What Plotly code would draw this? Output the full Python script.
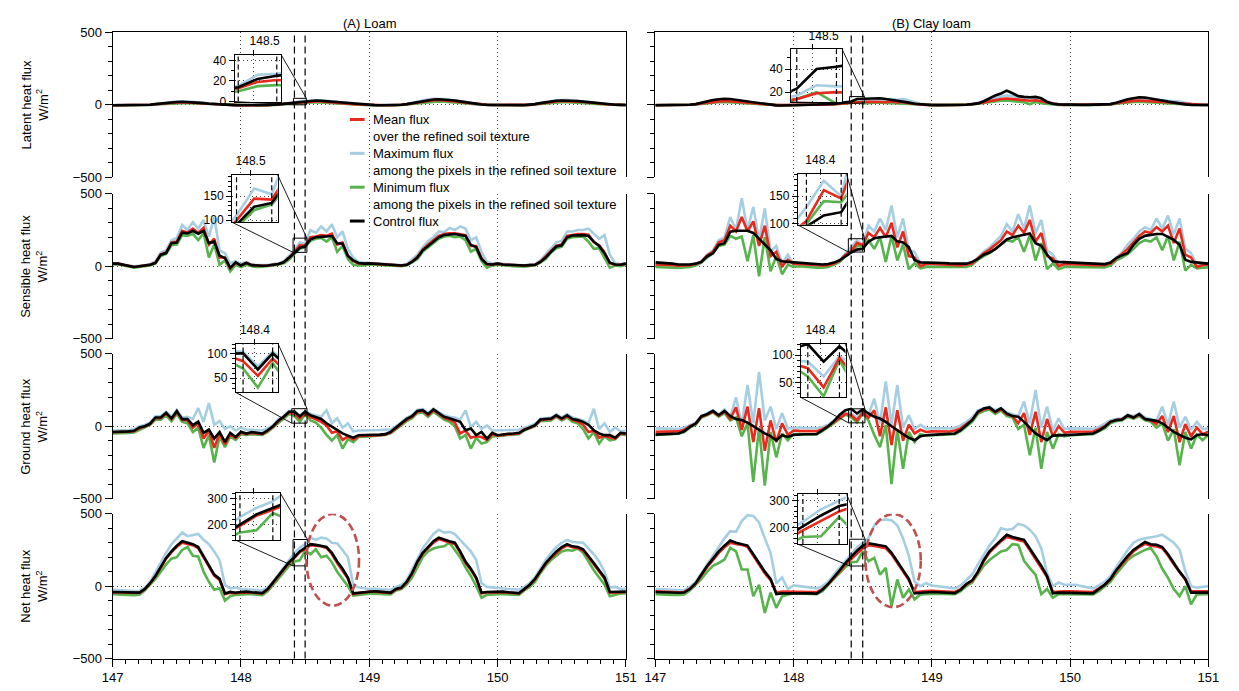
import numpy as np
import plotly.graph_objects as go

W, H = 1239, 691
FONT = "Liberation Sans, Arial, Helvetica, sans-serif"

# Hourly time stamps (day of year 147.0 ... 151.0)
time = 147 + np.arange(97) / 24.0

# ---------------- Latent heat flux (W/m2) ----------------
latent_loam_ctrl = [-3,-3,-4,-4,-4,-3,-2,0,5,10,14,18,20,21,20,18,15,12,8,5,2,0,-1,-2,
                    -3,-3,-3,-3,-3,-3,0,3,7,11,14,22,25,30,30,28,25,22,18,14,10,5,2,0,
                    -2,-2,-3,-3,-3,-3,0,5,12,20,28,34,37,38,36,33,30,24,18,12,6,2,0,-1,
                    -1,-2,-2,-2,-2,-2,0,5,12,18,24,28,30,30,28,26,22,18,14,10,6,3,1,0,
                    -1]
latent_loam_mean = [-3,-3,-4,-4,-4,-3,-2,0,4,8,12,15,17,18,17,15,13,10,7,4,2,0,-1,-2,
                    -3,-3,-3,-3,-3,-3,0,3,6,10,13,19,21,23,24,23,21,18,15,12,8,4,2,0,
                    -2,-2,-3,-3,-3,-3,0,4,10,17,24,29,32,33,31,28,25,20,15,10,5,2,0,-1,
                    -1,-2,-2,-2,-2,-2,0,4,10,15,20,24,26,26,24,22,19,15,12,8,5,2,1,0,
                    -1]
latent_loam_max = [-2,-2,-3,-3,-3,-2,-1,1,6,12,16,20,23,24,23,21,18,14,10,6,3,1,0,-1,
                   -2,-2,-2,-2,-2,-2,1,4,8,12,15,26,27,32,33,31,28,25,21,16,12,6,3,1,
                   -1,-1,-2,-2,-2,-2,1,6,14,23,31,38,41,42,40,37,33,27,20,14,8,3,1,0,
                   0,-1,-1,-1,-1,-1,1,6,14,21,27,31,34,34,32,29,25,21,16,12,7,4,2,1,
                   0]
latent_loam_min = [-4,-4,-5,-5,-5,-4,-3,-1,2,5,7,9,11,12,11,10,8,6,4,2,1,-1,-2,-3,
                   -4,-4,-4,-4,-4,-4,-1,2,5,8,10,15,16,17,18,17,15,13,10,8,5,2,1,-1,
                   -3,-3,-4,-4,-4,-4,-1,3,7,12,17,21,23,24,22,20,18,14,10,7,3,1,-1,-2,
                   -2,-3,-3,-3,-3,-3,-1,3,7,11,14,17,18,18,17,15,13,10,8,5,3,1,0,-1,
                   -2]

latent_clay_ctrl = [-3,-3,-3,-3,-3,-2,0,5,15,25,33,38,42,40,34,28,22,16,10,5,0,-4,-5,-4,
                    -3,-3,-2,-2,-1,0,2,6,12,16,23,40,42,46,48,45,40,35,28,22,15,8,3,0,
                    -2,-2,-2,-2,-2,-2,0,5,10,25,45,64,78,98,80,60,55,52,55,45,20,8,3,1,
                    0,0,0,0,0,0,0,5,15,28,38,45,52,50,45,38,30,22,15,8,3,0,-1,-1,
                    -1]
latent_clay_mean = [-2,-2,-2,-2,-2,-1,1,4,10,16,21,24,26,25,22,18,14,10,6,3,0,-2,-2,-2,
                    -1,-1,-1,-1,-1,0,2,5,9,12,14,19,20,21,22,20,18,24,16,20,12,6,2,0,
                    -1,-1,-1,-1,-1,-1,1,4,9,17,26,34,40,44,40,35,30,28,32,25,15,6,2,0,
                    0,0,0,0,0,0,1,4,11,18,24,27,30,29,26,22,19,16,12,8,4,2,0,0,
                    0]
latent_clay_max = [-1,-1,-1,-1,-1,0,2,5,12,20,26,30,32,31,27,22,18,13,8,4,1,-1,-1,-1,
                   0,0,0,0,0,1,3,6,10,14,17,26,25,28,30,32,34,40,35,42,30,18,8,3,
                   1,1,0,0,0,0,2,6,12,22,35,48,58,65,60,52,48,50,46,40,25,12,6,3,
                   2,2,1,1,1,1,2,6,15,25,32,36,40,39,36,32,30,28,25,22,12,5,2,1,
                   1]
latent_clay_min = [-3,-3,-3,-3,-3,-2,0,3,8,12,16,18,19,18,16,13,10,7,4,2,0,-2,-3,-3,
                   -2,-2,-2,-2,-2,-1,1,3,6,9,14,20,10,14,15,14,12,10,8,6,4,2,0,-1,
                   -2,-2,-2,-2,-2,-2,0,3,7,13,19,24,28,30,27,22,18,5,20,12,6,2,0,-1,
                   -1,-1,-1,-1,-1,-1,0,3,8,13,17,20,22,21,19,16,13,10,7,4,2,0,-1,-1,
                   -1]

# ---------------- Sensible heat flux (W/m2) ----------------
sensible_loam_ctrl = [18,18,10,2,-5,0,3,10,23,80,91,159,164,232,227,245,225,245,160,170,73,57,-11,27,
                      5,23,8,5,3,5,10,15,27,57,91,128,136,186,200,203,206,209,159,155,73,40,23,18,
                      20,18,15,12,10,5,5,10,30,60,110,140,170,200,216,220,223,216,209,148,132,50,15,12,
                      18,12,10,8,6,5,8,10,30,60,100,136,145,200,212,216,215,209,170,140,90,25,12,10,
                      18]
sensible_loam_mean = [18,18,10,2,-5,0,3,10,25,82,95,165,170,245,232,260,230,265,150,190,60,60,-15,25,
                      5,23,8,5,3,5,10,15,28,60,100,145,143,200,205,215,210,225,150,165,70,35,20,16,
                      20,18,15,12,10,5,5,10,32,65,115,150,180,210,222,228,228,222,215,140,140,55,12,12,
                      18,12,10,8,6,5,8,10,32,65,105,142,150,210,218,222,222,218,165,145,95,22,10,10,
                      18]
sensible_loam_max = [20,20,12,5,0,3,6,15,35,95,110,180,195,285,250,305,260,320,205,340,110,90,20,35,
                     15,30,12,8,6,8,15,20,35,70,110,166,154,250,230,275,240,290,200,240,120,60,30,25,
                     22,20,17,14,12,8,8,15,45,80,130,175,200,240,235,265,250,275,260,180,200,100,30,20,
                     22,15,12,10,8,7,10,15,40,80,125,165,175,240,240,250,250,260,225,190,215,80,20,15,
                     20]
sensible_loam_min = [12,12,5,-3,-10,-5,0,5,18,70,85,145,150,215,210,225,180,230,60,150,10,40,-35,10,
                     -5,10,0,-5,-3,0,5,10,20,45,85,121,133,175,190,195,170,200,100,140,50,10,5,5,
                     12,10,8,5,3,0,0,5,25,50,100,130,160,190,205,210,200,205,180,100,120,35,-10,5,
                     10,5,3,0,-2,-3,2,5,25,50,95,125,135,190,200,205,205,170,120,125,60,-10,5,0,
                     10]

sensible_clay_ctrl = [27,25,22,18,12,10,12,18,30,68,90,148,159,239,245,245,245,230,190,150,110,50,34,30,
                      27,25,25,20,15,12,15,25,41,70,95,115,121,170,193,200,205,209,172,165,132,41,27,27,
                      25,25,22,20,18,15,18,30,50,80,95,118,150,185,200,210,216,227,159,141,80,34,30,28,
                      27,25,22,20,18,15,15,25,57,75,91,148,190,210,218,223,223,200,182,148,45,30,27,22,
                      18]
sensible_clay_mean = [12,12,10,7,4,4,8,16,32,75,100,165,180,280,240,340,240,310,140,280,70,100,0,45,
                      15,15,12,8,6,5,8,18,38,80,105,161,146,230,200,265,200,300,130,240,70,60,0,15,
                      15,15,12,10,8,6,10,20,55,90,115,145,180,240,215,280,230,320,170,230,70,55,0,15,
                      15,15,12,10,8,6,8,18,55,85,120,165,210,240,230,270,240,280,160,260,80,60,-5,8,
                      12]
sensible_clay_max = [5,5,3,0,-2,0,5,15,35,80,110,180,200,340,250,470,250,410,180,400,100,140,20,80,
                     10,15,8,5,3,2,5,15,40,90,130,178,150,280,240,330,250,420,200,330,110,100,15,10,
                     8,8,6,5,3,2,5,15,60,100,130,170,210,290,240,360,260,420,230,320,110,80,15,10,
                     10,8,6,5,3,2,3,12,60,95,150,190,240,270,250,330,260,350,220,330,120,90,10,5,
                     8]
sensible_clay_min = [-5,-5,-8,-10,-12,-10,-5,5,25,60,90,140,150,210,190,205,35,215,-70,200,-35,70,-55,10,
                     -5,0,-5,-8,-10,-10,-5,10,30,70,100,141,139,180,120,200,30,210,40,150,-20,20,-15,-5,
                     -5,-5,-8,-10,-10,-10,-5,10,45,70,90,120,150,180,170,200,100,215,40,160,-20,20,-20,-5,
                     -5,-5,-8,-10,-10,-10,-8,5,40,60,85,120,160,180,170,200,110,210,40,170,-30,10,-15,-10,
                     -8]

# ---------------- Ground heat flux (W/m2) ----------------
ground_loam_ctrl = [-40,-40,-38,-36,-32,-9,0,18,60,60,93,53,104,49,50,7,32,-46,-23,-86,-40,-109,-46,-74,
                    -39,-51,-40,-45,-51,-28,0,40,65,100,101,68,101,75,60,50,20,-5,-30,-50,-65,-79,-62,-62,
                    -62,-60,-58,-55,-39,-9,23,50,69,106,111,83,116,88,65,55,45,30,-28,-16,-62,-40,-86,-46,
                    -62,-55,-52,-50,-46,-25,-10,7,46,50,53,76,53,76,50,42,30,10,-28,-50,-62,-62,-79,-46,
                    -51]
ground_loam_mean = [-42,-42,-40,-38,-35,-15,-3,14,55,55,88,48,97,45,40,-10,20,-85,-30,-150,-50,-125,-55,-82,
                    -45,-55,-47,-50,-55,-33,-4,34,62,95,85,55,90,62,48,30,5,-45,-35,-95,-70,-92,-68,-68,
                    -66,-64,-62,-58,-44,-14,18,45,64,100,105,76,110,81,57,45,25,-50,-30,-80,-70,-75,-95,-56,
                    -66,-60,-56,-54,-50,-20,-12,4,42,46,48,71,48,70,42,33,10,-40,-32,-80,-66,-78,-85,-50,
                    -55]
ground_loam_max = [-30,-30,-28,-26,-22,0,8,25,68,70,100,65,112,60,65,50,125,30,160,10,35,-20,0,-30,
                   -10,-25,-25,-28,-30,-15,8,48,72,106,104,74,104,85,75,65,110,20,55,-10,20,-35,-30,-30,
                   -30,-28,-26,-24,-25,0,30,58,76,113,118,92,122,97,75,65,60,45,110,-5,30,-20,5,-30,
                   -30,-28,-26,-25,-25,-10,0,15,52,58,60,82,60,84,60,50,40,20,120,-20,20,-40,-10,-35,
                   -30]
ground_loam_min = [-50,-50,-48,-46,-44,-25,-10,8,45,45,75,35,85,30,20,-40,-10,-150,-60,-250,-70,-145,-70,-95,
                   -55,-60,-55,-55,-60,-40,-10,25,55,85,70,31,81,40,25,-10,-60,-100,-60,-155,-90,-110,-75,-75,
                   -70,-68,-65,-60,-50,-20,10,35,55,90,95,65,100,70,45,30,0,-85,-60,-155,-80,-120,-110,-70,
                   -70,-65,-60,-58,-55,-30,-15,0,35,40,40,65,40,60,30,20,-20,-85,-40,-120,-70,-97,-90,-55,
                   -60]

ground_clay_ctrl = [-58,-55,-53,-52,-50,-35,-5,18,69,83,106,76,106,70,50,42,25,0,-28,-50,-69,-97,-62,-74,
                    -60,-56,-56,-56,-54,-28,0,35,80,111,120,88,116,88,65,53,30,0,-30,-55,-80,-97,-70,-62,
                    -60,-58,-56,-55,-50,-28,7,42,100,123,130,100,123,88,70,65,30,-10,-50,-74,-97,-65,-62,-62,
                    -60,-58,-56,-54,-51,-30,-5,30,42,46,76,60,83,50,45,37,20,-9,-40,-60,-80,-90,-60,-56,
                    -62]
ground_clay_mean = [-38,-37,-36,-36,-36,-25,0,18,65,80,100,72,100,50,130,-25,135,-110,125,-170,40,-110,20,-60,
                    -30,-32,-34,-35,-35,-20,0,30,55,85,76,41,95,60,110,-70,130,-130,110,-100,10,-50,-25,-40,
                    -36,-37,-37,-37,-30,-15,15,45,97,115,125,97,117,82,70,20,90,-60,100,-110,50,-70,0,-45,
                    -38,-37,-37,-37,-37,-20,0,30,43,48,73,60,80,50,40,15,70,-40,70,-110,15,-70,-10,-55,
                    -38]
ground_clay_max = [-15,-15,-17,-18,-20,-10,5,25,70,90,110,80,115,60,200,10,285,20,375,40,135,-20,90,-15,
                   -10,-10,-12,-15,-15,-5,10,40,60,90,88,61,98,80,190,20,310,10,285,-10,75,-20,10,-15,
                   -12,-14,-15,-16,-10,5,30,60,110,125,135,110,125,95,80,70,170,20,250,-10,135,-30,55,-20,
                   -15,-15,-16,-17,-18,-5,15,40,50,55,80,70,90,60,50,40,135,10,170,-10,65,-25,30,-20,
                   -15]
ground_clay_min = [-60,-58,-56,-55,-52,-40,-10,10,60,75,95,65,90,40,60,-70,20,-385,-10,-410,-40,-215,-50,-97,
                   -55,-55,-56,-57,-57,-35,-10,20,50,80,61,25,91,40,-60,-145,10,-400,-20,-295,-40,-110,-55,-65,
                   -62,-60,-58,-57,-55,-35,0,30,85,105,115,85,110,70,60,-20,10,-200,-10,-295,-40,-155,-55,-70,
                   -62,-60,-58,-57,-56,-35,-15,20,35,40,65,50,70,40,30,-10,20,-100,-20,-270,-40,-155,-60,-97,
                   -60]

# ---------------- Net heat flux (W/m2) ----------------
net_loam_ctrl = [-40,-42,-44,-45,-46,-45,-20,20,70,130,195,240,280,310,300,290,270,210,150,80,50,-50,-40,-45,
                 -40,-38,-42,-45,-48,-20,25,70,120,165,200,240,265,290,285,280,270,230,170,120,60,-50,-45,-40,
                 -35,-35,-38,-42,-45,-20,-10,30,90,170,230,270,310,335,320,310,300,240,170,120,60,-45,-40,-38,
                 -35,-38,-42,-45,-48,-20,10,50,110,160,200,240,270,290,275,270,255,210,160,110,60,-40,-40,-40,
                 -38]
net_loam_mean = [-42,-44,-46,-47,-48,-47,-22,18,68,125,190,235,272,300,292,283,262,200,140,72,42,-55,-45,-48,
                 -43,-42,-45,-48,-51,-23,22,66,115,160,195,235,258,283,280,275,264,222,160,110,52,-55,-48,-43,
                 -38,-38,-41,-45,-48,-23,-13,26,85,165,224,262,300,325,312,302,292,232,162,112,52,-50,-43,-41,
                 -38,-41,-45,-48,-51,-23,7,46,105,155,195,232,262,280,268,262,246,200,150,100,52,-45,-43,-43,
                 -41]
net_loam_max = [-25,-28,-30,-32,-33,-32,-10,30,100,170,230,290,330,370,345,355,360,320,290,240,180,10,-15,-10,
                -20,-22,-25,-28,-30,-10,30,80,130,180,230,265,290,335,320,335,330,300,295,250,200,10,-10,-15,
                -20,-18,-20,-22,-25,-5,10,40,110,190,260,310,360,390,370,375,360,320,280,240,180,20,-5,-10,
                -15,-18,-20,-22,-25,-5,20,60,120,180,230,270,300,320,305,305,300,260,220,170,100,-10,-5,-20,
                -20]
net_loam_min = [-55,-58,-60,-62,-62,-60,-30,10,50,100,150,190,200,250,270,210,205,100,30,-25,-15,-100,-70,-60,
                -55,-55,-55,-58,-62,-35,10,50,100,140,170,178,245,220,255,200,210,165,100,50,0,-65,-60,-55,
                -52,-52,-55,-55,-58,-30,-20,10,60,130,200,240,260,270,275,300,250,200,130,70,0,-80,-60,-55,
                -55,-55,-55,-58,-60,-30,-5,30,90,140,180,210,240,250,245,260,230,170,110,60,10,-70,-60,-50,
                -50]

net_clay_ctrl = [-40,-42,-44,-45,-46,-44,-20,20,80,140,190,240,280,315,300,290,280,220,160,100,50,-55,-50,-50,
                 -45,-45,-48,-50,-52,-25,15,60,110,160,205,245,280,295,290,285,275,230,170,110,50,-50,-45,-42,
                 -40,-42,-44,-46,-48,-25,15,40,100,180,240,280,320,355,340,330,320,260,200,140,70,-50,-45,-45,
                 -45,-46,-47,-48,-50,-20,10,50,110,160,210,250,280,305,290,285,270,220,160,100,50,-45,-45,-45,
                 -45]
net_clay_mean = [-35,-37,-40,-41,-42,-40,-18,18,75,132,180,230,268,300,292,285,272,212,150,90,42,-45,-38,-38,
                 -35,-36,-38,-40,-42,-20,12,55,102,150,190,225,260,282,278,272,262,220,160,100,42,-40,-35,-33,
                 -32,-34,-36,-38,-40,-20,12,36,95,172,232,272,310,340,328,318,308,250,190,130,62,-40,-35,-35,
                 -35,-36,-37,-38,-40,-15,8,45,105,152,200,240,270,292,280,275,262,212,152,95,45,-35,-35,-36,
                 -36]
net_clay_max = [-20,-22,-25,-28,-30,-28,-5,30,90,150,210,270,330,380,375,450,490,485,440,330,230,20,60,-20,
                5,0,-5,-10,-15,0,30,80,130,180,222,268,300,330,420,455,460,455,420,330,210,30,0,20,
                5,0,-5,-10,-15,5,40,80,150,220,280,330,400,390,395,430,420,390,345,260,90,0,25,10,
                10,10,0,-5,-15,5,30,70,130,190,250,300,321,330,335,345,355,326,300,252,103,0,-11,-5,
                0]
net_clay_min = [-55,-58,-60,-60,-60,-58,-30,10,50,100,140,160,183,264,240,115,115,-70,10,-185,-45,-150,-70,-57,
                -50,-50,-52,-54,-55,-35,10,50,90,133,165,168,240,172,195,80,126,-138,46,-80,-23,-92,-57,-55,
                -52,-53,-54,-55,-56,-35,0,25,80,140,180,210,240,250,290,285,175,125,80,-55,-20,-80,-55,-55,
                -55,-55,-56,-57,-58,-35,-5,30,85,135,180,210,230,250,264,206,120,57,-20,-69,0,-126,-57,-57,
                -55]

# ---------------- labels ----------------
row_titles = ["Latent heat flux", "Sensible heat flux", "Ground heat flux", "Net heat flux"]
col_titles = ["(A) Loam", "(B) Clay loam"]
legend_lines = ["Mean flux", "over the refined soil texture",
                "Maximum flux", "among the pixels in the refined soil texture",
                "Minimum flux", "among the pixels in the refined soil texture",
                "Control flux"]
x_ticks = [147, 148, 149, 150, 151]
y_ticks = [-500, 0, 500]

C_MAX, C_MIN, C_MEAN, C_CTRL = "#a6cee3", "#57b34c", "#e8291c", "#000000"
C_ELLIPSE = "#c0504d"

# (row, col) -> series drawn back-to-front: max, min, mean, control
panel_series = {
    (0, 0): (latent_loam_max, latent_loam_min, latent_loam_mean, latent_loam_ctrl),
    (0, 1): (latent_clay_max, latent_clay_min, latent_clay_mean, latent_clay_ctrl),
    (1, 0): (sensible_loam_max, sensible_loam_min, sensible_loam_mean, sensible_loam_ctrl),
    (1, 1): (sensible_clay_max, sensible_clay_min, sensible_clay_mean, sensible_clay_ctrl),
    (2, 0): (ground_loam_max, ground_loam_min, ground_loam_mean, ground_loam_ctrl),
    (2, 1): (ground_clay_max, ground_clay_min, ground_clay_mean, ground_clay_ctrl),
    (3, 0): (net_loam_max, net_loam_min, net_loam_mean, net_loam_ctrl),
    (3, 1): (net_clay_max, net_clay_min, net_clay_mean, net_clay_ctrl),
}
for key, group in panel_series.items():
    for s in group:
        if len(s) != len(time):
            raise ValueError(f"series length {len(s)} in panel {key}")
styles = [(C_MAX, 2.6), (C_MIN, 2.6), (C_MEAN, 2.6), (C_CTRL, 2.6)]

# ---------------- geometry (pixels) ----------------
COL_PX = [(103.5, 626.0), (656.0, 1219.0)]
ROW_PX = [(26.0, 174.0), (191.0, 339.0), (354.5, 502.5), (518.0, 666.0)]
X_RANGE = [147, 151]
Y_RANGE = [-500, 500]

# inset boxes: (left, right, top, bottom) in pixels, plus their zoomed data windows
INSET_PX = {
    (0, 0): (227.7, 275.3, 49.3, 96.7),
    (1, 0): (225.0, 271.5, 171.7, 220.0),
    (2, 0): (228.8, 271.8, 344.0, 394.0),
    (3, 0): (228.8, 274.2, 497.0, 545.0),
    (0, 1): (794.3, 846.2, 43.3, 97.1),
    (1, 1): (801.0, 850.7, 170.8, 222.7),
    (2, 1): (804.0, 849.6, 344.5, 399.0),
    (3, 1): (801.0, 850.7, 498.0, 549.0),
}
INSET_XR = {
    (0, 0): [148.409, 148.51], (1, 0): [148.406, 148.514],
    (2, 0): [148.396, 148.515], (3, 0): [148.406, 148.519],
    (0, 1): [148.405, 148.512], (1, 1): [148.396, 148.513],
    (2, 1): [148.398, 148.516], (3, 1): [148.405, 148.517],
}
INSET_YR = {
    (0, 0): [0, 45], (1, 0): [96, 194], (2, 0): [21, 121], (3, 0): [140, 322],
    (0, 1): [11.5, 57], (1, 1): [98, 190], (2, 1): [23, 120], (3, 1): [139, 324],
}
INSET_YTICKS = {0: [0, 20, 40], 1: [100, 150], 2: [50, 100], 3: [200, 300]}
INSET_YMINOR = {0: 10, 1: 10, 2: 10, 3: 20}
INSET_XLABEL = {(0, 0): "148.5", (1, 0): "148.5", (2, 0): "148.4", (3, 0): None,
                (0, 1): "148.5", (1, 1): "148.4", (2, 1): "148.4", (3, 1): None}
MARK_TIMES = [148 + 10 / 24, 148.5]
ELLIPSES = {0: (148.51, 148.92, -135, 498), 1: (148.52, 148.92, -145, 498)}


def fx(p):
    return p / W


def fy(p):
    return 1 - p / H


def main_to_px(r, c, xv, yv):
    x0, x1 = COL_PX[c]
    y0, y1 = ROW_PX[r]
    px = x0 + (xv - X_RANGE[0]) / (X_RANGE[1] - X_RANGE[0]) * (x1 - x0)
    py = y1 - (yv - Y_RANGE[0]) / (Y_RANGE[1] - Y_RANGE[0]) * (y1 - y0)
    return px, py


def ax_id(n):
    return "" if n == 1 else str(n)


GRID = dict(showgrid=True, gridcolor="#444444", gridwidth=1, griddash="1px,3px")
TICKFONT = dict(family=FONT, size=13, color="black")
INSET_FONT = dict(family=FONT, size=12, color="black")

fig = go.Figure()
layout = {}
shapes = []
annotations = []

panels = [(r, c) for r in range(4) for c in range(2)]

# main panels first, insets after so they sit on top
for inset in (False, True):
    for (r, c) in panels:
        k = r * 2 + c + 1 + (8 if inset else 0)
        for s, (color, width) in zip(panel_series[(r, c)], styles):
            fig.add_trace(go.Scatter(
                x=time, y=s, mode="lines",
                line=dict(color=color, width=width),
                xaxis="x" + ax_id(k), yaxis="y" + ax_id(k),
                showlegend=False, hoverinfo="skip"))

for (r, c) in panels:
    k = r * 2 + c + 1
    x0, x1 = COL_PX[c]
    y0, y1 = ROW_PX[r]
    xa = dict(domain=[fx(x0), fx(x1)], anchor="y" + ax_id(k), range=X_RANGE,
              tick0=147, dtick=1, zeroline=False, **GRID,
              showline=(r in (0, 3)), linecolor="black", linewidth=1,
              side="top" if r == 0 else "bottom",
              showticklabels=(r == 3), tickfont=TICKFONT,
              ticks="outside" if r == 3 else "", ticklen=7, tickwidth=1, tickcolor="black")
    if r == 3:
        xa["tickvals"] = x_ticks
        xa["minor"] = dict(dtick=0.1, tick0=147, ticks="outside", ticklen=4,
                           tickwidth=1, tickcolor="black", showgrid=False)
    ya = dict(domain=[fy(y1), fy(y0)], anchor="x" + ax_id(k), range=Y_RANGE,
              tickvals=y_ticks, zeroline=False, **GRID,
              showline=True, mirror=True, linecolor="black", linewidth=1,
              ticks="outside", ticklen=7, tickwidth=1, tickcolor="black",
              showticklabels=(c == 0), tickfont=TICKFONT,
              minor=dict(dtick=100, tick0=-500, ticks="outside", ticklen=4,
                         tickwidth=1, tickcolor="black", showgrid=False))
    layout["xaxis" + ax_id(k)] = xa
    layout["yaxis" + ax_id(k)] = ya

    # inset axes
    ki = k + 8
    il, ir, it, ib = INSET_PX[(r, c)]
    xr, yr = INSET_XR[(r, c)], INSET_YR[(r, c)]
    label = INSET_XLABEL[(r, c)]
    ixa = dict(
        domain=[fx(il), fx(ir)], anchor="y" + ax_id(ki), range=xr, side="top",
        tickvals=[148.45], ticks="outside", ticklen=4, tickwidth=1, tickcolor="black",
        tickfont=INSET_FONT, showline=True, mirror=True, linecolor="black", linewidth=1,
        zeroline=False, **GRID)
    if label:
        ixa.update(ticktext=[label], ticklabelshift=(11 if r == 0 else 0))
    else:
        ixa.update(showticklabels=False)
    layout["xaxis" + ax_id(ki)] = ixa
    layout["yaxis" + ax_id(ki)] = dict(
        domain=[fy(ib), fy(it)], anchor="x" + ax_id(ki), range=yr,
        tickvals=INSET_YTICKS[r], ticks="outside", ticklen=5, tickwidth=1,
        tickcolor="black", tickfont=INSET_FONT,
        showline=True, mirror=True, linecolor="black", linewidth=1,
        zeroline=False, **GRID,
        minor=dict(dtick=INSET_YMINOR[r], tick0=0, ticks="outside", ticklen=3,
                   tickwidth=1, tickcolor="black", showgrid=False))

    # dashed markers inside the inset
    for t in MARK_TIMES:
        shapes.append(dict(type="line", xref="x" + ax_id(ki), yref="y" + ax_id(ki) + " domain",
                           x0=t, x1=t, y0=0, y1=1,
                           line=dict(color="black", width=1.2, dash="5px,3px")))

    # zoom window in the main panel
    shapes.append(dict(type="rect", xref="x" + ax_id(k), yref="y" + ax_id(k),
                       x0=xr[0], x1=xr[1], y0=yr[0], y1=yr[1],
                       line=dict(color="black", width=1)))
    # connectors: inset bottom-left -> window bottom-left, inset top-right -> window top-right
    bl = main_to_px(r, c, xr[0], yr[0])
    tr = main_to_px(r, c, xr[1], yr[1])
    shapes.append(dict(type="line", xref="paper", yref="paper",
                       x0=fx(il), y0=fy(ib), x1=fx(bl[0]), y1=fy(bl[1]),
                       line=dict(color="black", width=0.9)))
    shapes.append(dict(type="line", xref="paper", yref="paper",
                       x0=fx(ir), y0=fy(it), x1=fx(tr[0]), y1=fy(tr[1]),
                       line=dict(color="black", width=0.9)))

# dashed time markers spanning all rows
for c in range(2):
    for t in MARK_TIMES:
        shapes.append(dict(type="line", xref="x" + ax_id(c + 1), yref="paper",
                           x0=t, x1=t, y0=fy(ROW_PX[3][1]), y1=fy(ROW_PX[0][0]),
                           line=dict(color="black", width=1.2, dash="7px,4px")))

# highlighted period in the net heat flux panels
for c in range(2):
    k = 3 * 2 + c + 1
    ex0, ex1, ey0, ey1 = ELLIPSES[c]
    shapes.append(dict(type="circle", xref="x" + ax_id(k), yref="y" + ax_id(k),
                       x0=ex0, x1=ex1, y0=ey0, y1=ey1,
                       line=dict(color=C_ELLIPSE, width=2.6, dash="8px,4px")))

# column titles
for c, title in enumerate(col_titles):
    annotations.append(dict(text=title, x=fx(sum(COL_PX[c]) / 2), y=fy(16.7),
                            xref="paper", yref="paper", showarrow=False,
                            xanchor="center", yanchor="middle",
                            font=dict(family=FONT, size=13, color="black")))

# row titles
for r, title in enumerate(row_titles):
    annotations.append(dict(text=f"{title}<br>W/m<sup>2</sup>", x=fx(24), y=fy(sum(ROW_PX[r]) / 2),
                            xref="paper", yref="paper", showarrow=False, textangle=-90,
                            xanchor="center", yanchor="middle",
                            font=dict(family=FONT, size=13, color="black")))

# legend
leg_y = [115.0, 132.3, 149.6, 166.9, 184.2, 201.5, 218.8]
for i, text in enumerate(legend_lines):
    annotations.append(dict(text=text, x=fx(366), y=fy(leg_y[i]), xref="paper", yref="paper",
                            showarrow=False, xanchor="left", yanchor="middle",
                            font=dict(family=FONT, size=13, color="black")))
for i, color in zip([0, 2, 4, 6], [C_MEAN, C_MAX, C_MIN, C_CTRL]):
    shapes.append(dict(type="line", xref="paper", yref="paper",
                       x0=fx(345), x1=fx(360), y0=fy(leg_y[i]), y1=fy(leg_y[i]),
                       line=dict(color=color, width=3)))

fig.update_layout(
    width=W, height=H, margin=dict(l=0, r=0, t=0, b=0),
    paper_bgcolor="white", plot_bgcolor="white",
    font=dict(family=FONT, size=13, color="black"),
    shapes=shapes, annotations=annotations, showlegend=False,
    **layout)

fig.write_html("out.html")
